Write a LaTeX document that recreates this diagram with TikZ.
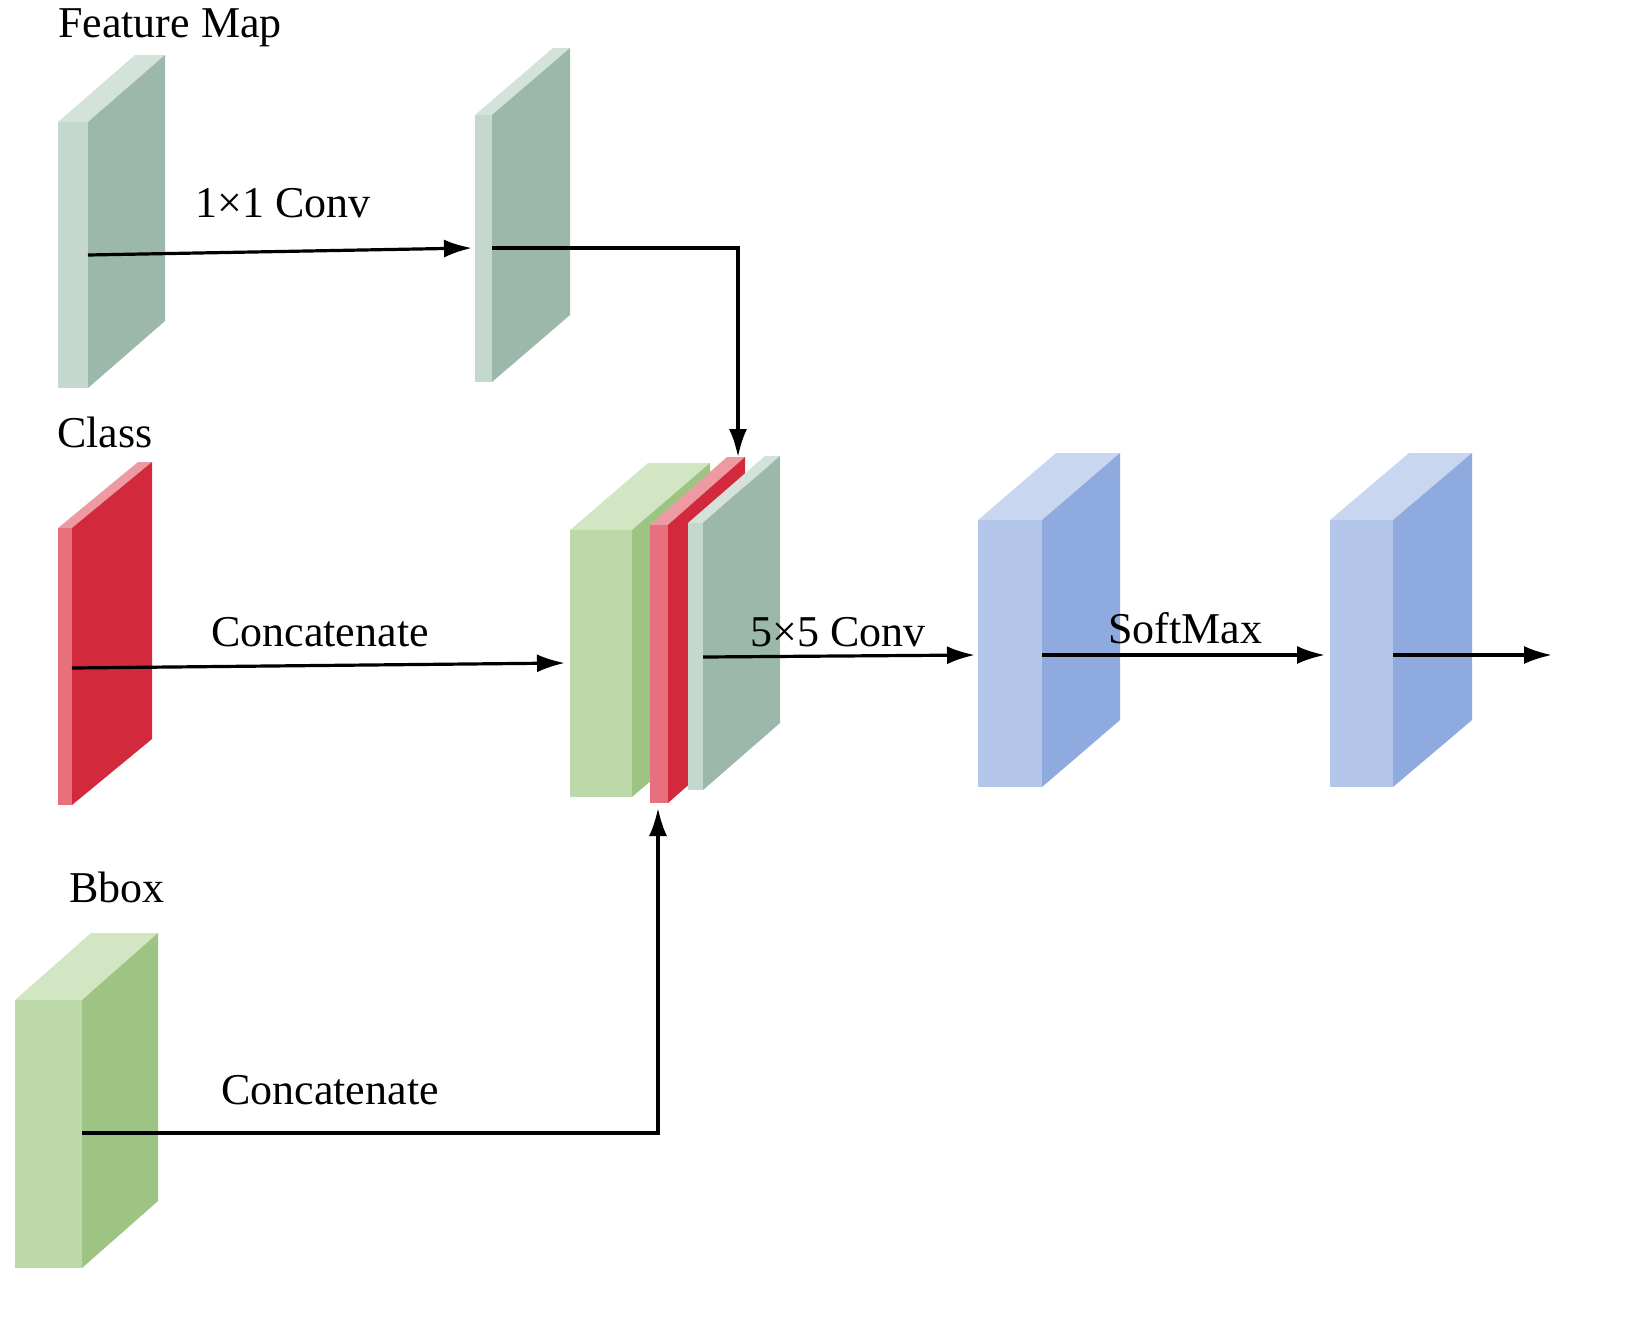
\documentclass[tikz,border=0pt]{standalone}
\usepackage{fontspec}
\setmainfont{Liberation Serif}
\usetikzlibrary{arrows.meta}
\begin{document}
\begin{tikzpicture}[x=0.5pt,y=-0.5pt,
  lbl/.style={font=\fontsize{22}{26}\selectfont},
  arr/.style={line width=1.6pt,-{Latex[length=14pt,width=9pt]}}]
\useasboundingbox (0,0) rectangle (1625,1328);
\newcommand{\myslab}[9]{%
  \fill[#9] (#1,#2) -- ++(#5,#6) -- ++(#3-#1,0) -- (#3,#2) -- cycle;
  \fill[#8] (#3,#2) -- ++(#5,#6) -- ++(0,#4-#2) -- (#3,#4) -- cycle;
  \fill[#7] (#1,#2) rectangle (#3,#4);}
\definecolor{gyf}{HTML}{C5D8CF}\definecolor{gys}{HTML}{9BB8AA}\definecolor{gyt}{HTML}{D3E3DA}
\definecolor{rf}{HTML}{E8707C}\definecolor{rs}{HTML}{D22A3C}\definecolor{rt}{HTML}{EE9AA3}
\definecolor{grf}{HTML}{BDD8A9}\definecolor{grs}{HTML}{9DC483}\definecolor{grt}{HTML}{D2E6C4}
\definecolor{bf}{HTML}{B4C6EA}\definecolor{bs}{HTML}{8EAADF}\definecolor{bt}{HTML}{C9D6F0}
\myslab{58}{122}{88}{388}{77}{-67}{gyf}{gys}{gyt}
\myslab{475}{115}{492}{382}{78}{-67}{gyf}{gys}{gyt}
\myslab{58}{528}{72}{805}{80}{-66}{rf}{rs}{rt}
\myslab{15}{1000}{82}{1268}{76}{-67}{grf}{grs}{grt}
\myslab{570}{530}{632}{797}{78}{-67}{grf}{grs}{grt}
\myslab{650}{525}{668}{803}{77}{-68}{rf}{rs}{rt}
\myslab{688}{523}{703}{790}{77}{-67}{gyf}{gys}{gyt}
\myslab{978}{520}{1042}{787}{78}{-67}{bf}{bs}{bt}
\myslab{1330}{520}{1393}{787}{79}{-67}{bf}{bs}{bt}
\coordinate (f1) at (88,255); \coordinate (f2i) at (472,248);
\coordinate (f2o) at (492,248); \coordinate (k1) at (738,248); \coordinate (mt) at (738,457);
\coordinate (c1) at (72,668); \coordinate (mi) at (565,663);
\coordinate (mo) at (703,657); \coordinate (b1i) at (975,655);
\coordinate (b1o) at (1042,655); \coordinate (b2i) at (1325,655);
\coordinate (b2o) at (1393,655); \coordinate (out) at (1552,655);
\coordinate (bb) at (82,1133); \coordinate (k2) at (658,1133); \coordinate (mb) at (658,808);
\draw[arr] (f1) -- (f2i);
\draw[arr] (f2o) -- (k1) -- (mt);
\draw[arr] (c1) -- (mi);
\draw[arr] (mo) -- (b1i);
\draw[arr] (b1o) -- (b2i);
\draw[arr] (b2o) -- (out);
\draw[arr] (bb) -- (k2) -- (mb);
\node[lbl] (t1) at (170,28) {Feature Map};
\node[lbl] (t2) at (283,203) {1×1 Conv};
\node[lbl] (t3) at (105,432) {Class};
\node[lbl] (t4) at (320,632) {Concatenate};
\node[lbl] (t5) at (838,632) {5×5 Conv};
\node[lbl] (t6) at (1185,628) {SoftMax};
\node[lbl] (t7) at (117,887) {Bbox};
\node[lbl] (t8) at (330,1090) {Concatenate};
\end{tikzpicture}
\end{document}
